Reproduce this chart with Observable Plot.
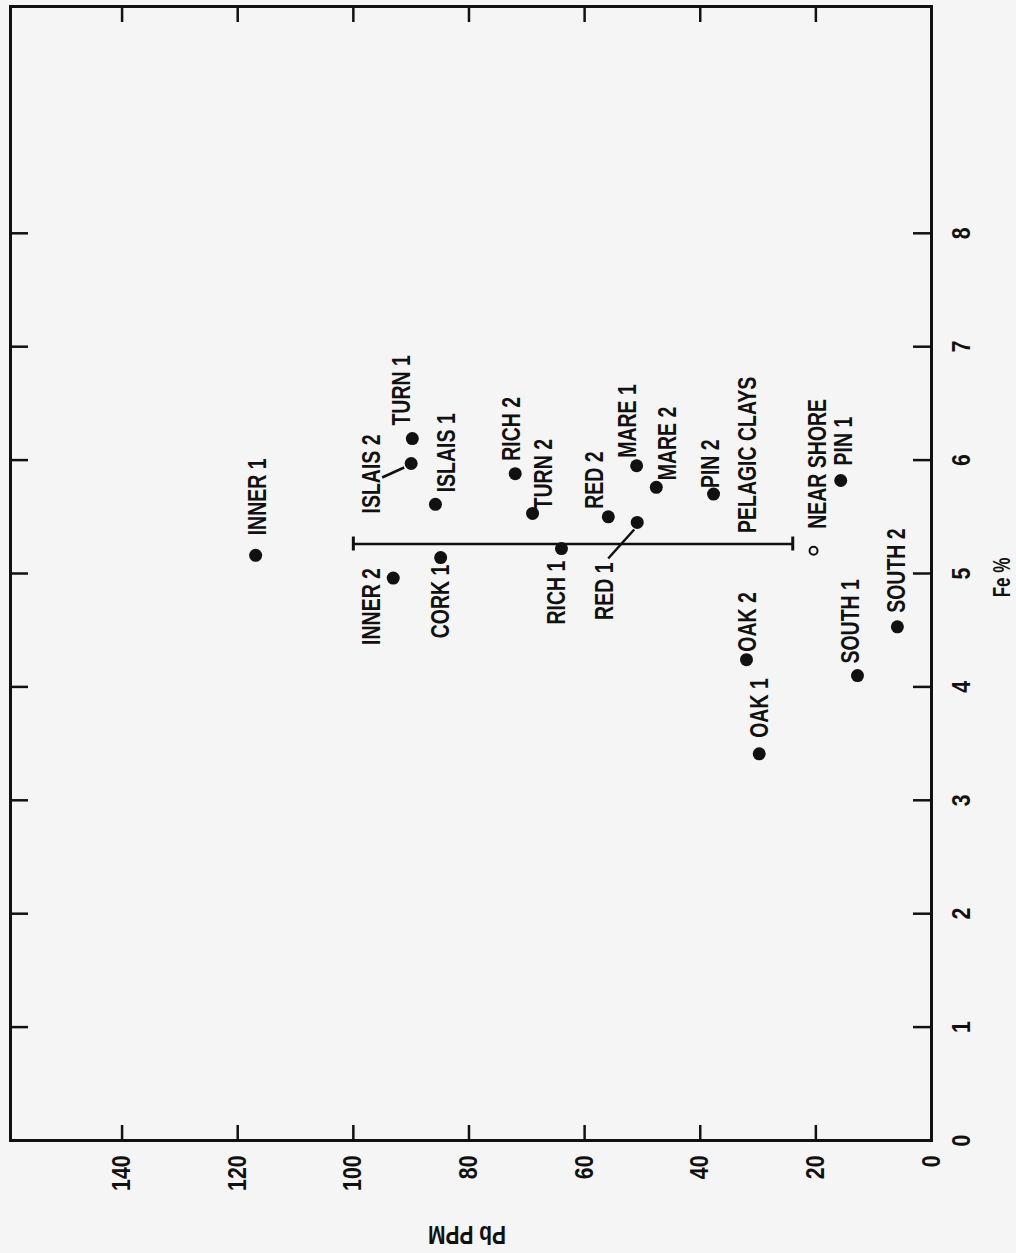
<!DOCTYPE html>
<html>
<head>
<meta charset="utf-8">
<script src="https://cdn.jsdelivr.net/npm/d3@7"></script>
<script src="https://cdn.jsdelivr.net/npm/@observablehq/plot@0.6"></script>
<style>
  html, body { margin: 0; padding: 0; background: #f5f5f5; }
  #chart svg { display: block; }
</style>
</head>
<body>
<div id="chart"></div>
<script>
// ---- data ----
const sites = ["INNER 1","INNER 2","ISLAIS 2","TURN 1","ISLAIS 1","CORK 1","RICH 2","TURN 2","RICH 1","RED 2","RED 1","MARE 1","MARE 2","PIN 2","PIN 1","OAK 2","OAK 1","SOUTH 1","SOUTH 2"];
const pbPPM  = [116.9, 93.1, 90.0, 89.8, 85.8, 84.9, 72.0, 69.0, 64.0, 55.9, 50.9, 51.0, 47.6, 37.7, 15.7, 32.0, 29.8, 12.8, 5.9];
const fePct  = [5.16, 4.96, 5.97, 6.19, 5.61, 5.14, 5.88, 5.53, 5.22, 5.50, 5.45, 5.95, 5.76, 5.70, 5.82, 4.24, 3.41, 4.10, 4.53];

const pelagicLabel = "PELAGIC CLAYS";
const pelagicPb = [100, 24];
const pelagicFe = 5.26;

const nearShoreLabel = "NEAR SHORE";
const nearShorePb = 20.4;
const nearShoreFe = 5.2;

const pbTicks = [20, 40, 60, 80, 100, 120, 140];
const pbTickLabels = [0, 20, 40, 60, 80, 100, 120, 140];
const feTicks = [1, 2, 3, 4, 5, 6, 7, 8];
const feTickLabels = [0, 1, 2, 3, 4, 5, 6, 7, 8];
const xTitle = "Fe %";
const yTitle = "Pb PPM";

// ---- layout (screen offsets of labels from their points, in px) ----
const labelLayout = {
  "INNER 1": [2, -20, "start"],
  "INNER 2": [-21, -10, "end"],
  "ISLAIS 2": [-39, 50, "start"],
  "TURN 1": [-10, -13, "start"],
  "ISLAIS 1": [12, -12, "start"],
  "CORK 1": [0, 7, "end"],
  "RICH 2": [-3, -13, "start"],
  "TURN 2": [11, -4, "start"],
  "RICH 1": [-4, 12, "end"],
  "RED 2": [-13, -8, "start"],
  "RED 1": [-32, 40, "end"],
  "MARE 1": [-9, -8, "start"],
  "MARE 2": [12, -7, "start"],
  "PIN 2": [-3, -6, "start"],
  "PIN 1": [3, -15, "start"],
  "OAK 2": [1, -8, "start"],
  "OAK 1": [1, -16, "start"],
  "SOUTH 1": [-7, -12, "start"],
  "SOUTH 2": [0, -14, "start"]
};
// leader lines: [x1, y1, x2, y2] px offsets from the point
const leaders = {
  "ISLAIS 2": [-29, 14, -7, 4],
  "RED 1": [-29, 36, -3, 7]
};

const W = 1016, H = 1253;
const mTop = 6, mRight = 85, mBottom = 113, mLeft = 10;
const plotW = W - mLeft - mRight, plotH = H - mTop - mBottom;
const xDomain = [159.3, 0], yDomain = [0, 10];
const FONT = '"Liberation Sans", Arial, sans-serif';
const INK = "#111";

const xs = Plot.scale({x: {domain: xDomain, range: [mLeft, W - mRight]}});
const ys = Plot.scale({y: {domain: yDomain, range: [H - mBottom, mTop]}});
const shift = (pb, fe, dx, dy) => [xs.invert(xs.apply(pb) + dx), ys.invert(ys.apply(fe) + dy)];

const points = sites.map((s, i) => ({site: s, pb: pbPPM[i], fe: fePct[i]}));
const labels = points.map(p => {
  const [dx, dy, anchor] = labelLayout[p.site];
  const [lx, ly] = shift(p.pb, p.fe, dx, dy);
  return {site: p.site, lx, ly, anchor};
});
{
  const [lx, ly] = shift(pelagicPb[1], pelagicFe, -45, -11);
  labels.push({site: pelagicLabel, lx, ly, anchor: "start"});
}
{
  const [lx, ly] = shift(nearShorePb, nearShoreFe, 4, -22);
  labels.push({site: nearShoreLabel, lx, ly, anchor: "start"});
}
const leaderData = points.filter(p => leaders[p.site]).map(p => {
  const [a, b, c, d] = leaders[p.site];
  const [x1, y1] = shift(p.pb, p.fe, a, b);
  const [x2, y2] = shift(p.pb, p.fe, c, d);
  return {x1, y1, x2, y2};
});
const capHalf = 7;
const caps = pelagicPb.map(v => ({pb: v, y1: shift(v, pelagicFe, 0, -capHalf)[1], y2: shift(v, pelagicFe, 0, capHalf)[1]}));

// condensing factor of each text mark, in mark order
const condense = [0.85, 0.85, 0.74, 0.84, 0.78, 0.78];

const chart = Plot.plot({
  width: W, height: H,
  marginTop: mTop, marginRight: mRight, marginBottom: mBottom, marginLeft: mLeft,
  x: {domain: xDomain, axis: null},
  y: {domain: yDomain, axis: null},
  style: {background: "#f5f5f5", fontFamily: FONT, color: INK},
  marks: [
    Plot.frame({stroke: INK, strokeWidth: 3}),
    // inward ticks on all four sides
    Plot.tickX(pbTicks, {x: d => d, insetTop: plotH - 15, stroke: INK, strokeWidth: 2.5}),
    Plot.tickX(pbTicks, {x: d => d, insetBottom: plotH - 16, stroke: INK, strokeWidth: 2.5}),
    Plot.tickY(feTicks, {y: d => d, insetLeft: plotW - 18, stroke: INK, strokeWidth: 2.5}),
    Plot.tickY(feTicks, {y: d => d, insetRight: plotW - 18, stroke: INK, strokeWidth: 2.5}),
    // pelagic clays range
    Plot.ruleY([pelagicFe], {y: d => d, x1: pelagicPb[0], x2: pelagicPb[1], stroke: INK, strokeWidth: 2.5}),
    Plot.ruleX(caps, {x: "pb", y1: "y1", y2: "y2", stroke: INK, strokeWidth: 3}),
    // near shore
    Plot.dot([{pb: nearShorePb, fe: nearShoreFe}], {x: "pb", y: "fe", r: 4, stroke: INK, strokeWidth: 2, fill: "none"}),
    // leaders
    Plot.link(leaderData, {x1: "x1", y1: "y1", x2: "x2", y2: "y2", stroke: INK, strokeWidth: 2.5}),
    // sites
    Plot.dot(points, {x: "pb", y: "fe", r: 6.5, fill: INK, stroke: null}),
    // tick labels
    Plot.text(pbTickLabels, {x: d => d, frameAnchor: "bottom", dy: 15, rotate: -90, textAnchor: "end", lineAnchor: "middle", fontSize: 25, fontWeight: "bold", fill: INK}),
    Plot.text(feTickLabels, {y: d => d, frameAnchor: "right", dx: 30, rotate: -90, textAnchor: "middle", lineAnchor: "middle", fontSize: 25, fontWeight: "bold", fill: INK}),
    // axis titles
    Plot.text([xTitle], {frameAnchor: "right", dx: 71, dy: 4, rotate: -90, textAnchor: "middle", lineAnchor: "middle", fontSize: 23, fontWeight: "bold", fill: INK}),
    Plot.text([yTitle], {frameAnchor: "bottom", dx: -4, dy: 94, rotate: 180, textAnchor: "middle", lineAnchor: "middle", fontSize: 25, fontWeight: "bold", fill: INK}),
    // site labels
    Plot.text(labels.filter(d => d.anchor === "start"), {x: "lx", y: "ly", text: "site", rotate: -90, textAnchor: "start", lineAnchor: "middle", fontSize: 25, fontWeight: "bold", fill: INK}),
    Plot.text(labels.filter(d => d.anchor === "end"), {x: "lx", y: "ly", text: "site", rotate: -90, textAnchor: "end", lineAnchor: "middle", fontSize: 25, fontWeight: "bold", fill: INK})
  ]
});

// condense the lettering along its reading direction (narrow lettering of the original)
const textGroups = [...chart.querySelectorAll("text")].map(t => t.parentNode).filter((g, i, a) => a.indexOf(g) === i);
textGroups.forEach((g, gi) => {
  const s = condense[gi] ?? 0.8;
  g.querySelectorAll("text").forEach(t => {
    const tr = t.getAttribute("transform") || "";
    t.setAttribute("transform", `${tr} scale(${s},1)`);
  });
});
document.getElementById("chart").appendChild(chart);
</script>
</body>
</html>
